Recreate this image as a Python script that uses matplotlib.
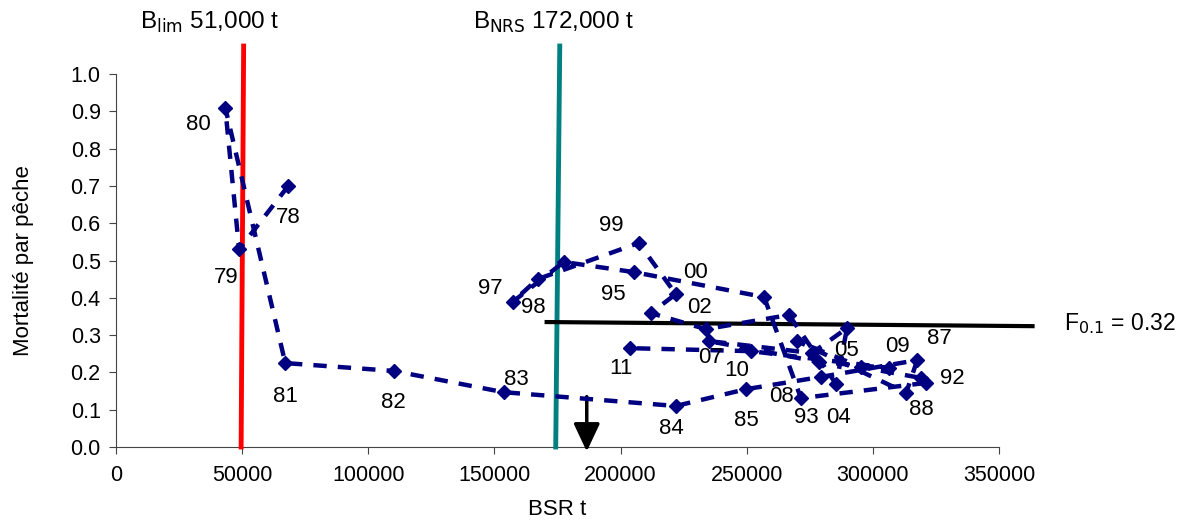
import matplotlib.pyplot as plt

plt.rcParams['font.family'] = ['Liberation Sans', 'DejaVu Sans']

# stock trajectory, one point per year 1978-2011
years = ["78", "79", "80", "81", "82", "83", "84", "85", "86", "87",
         "88", "89", "90", "91", "92", "93", "94", "95", "96", "97",
         "98", "99", "00", "01", "02", "03", "04", "05", "06", "07",
         "08", "09", "10", "11"]
ssb = [68300, 48800, 43300, 67100, 110000, 153600, 221900, 249700, 279500, 317600,
       313200, 270000, 295400, 319200, 321200, 271500, 256900, 205200, 177500, 157200,
       167100, 207200, 221900, 212000, 233800, 266800, 285400, 289800, 275900, 235000,
       278700, 306500, 251700, 203700]
fmort = [0.70, 0.53, 0.91, 0.225, 0.204, 0.147, 0.110, 0.155, 0.188, 0.233,
         0.145, 0.284, 0.214, 0.185, 0.172, 0.131, 0.402, 0.469, 0.496, 0.389,
         0.450, 0.547, 0.410, 0.359, 0.316, 0.354, 0.169, 0.319, 0.252, 0.284,
         0.228, 0.212, 0.257, 0.265]

# labels drawn for these years only, at their own spots
label_years = ["80", "79", "78", "81", "82", "83", "84", "85", "87", "88",
               "92", "93", "95", "97", "98", "99", "00", "02", "04", "05",
               "07", "08", "09", "10", "11"]
label_x = [32500, 43700, 68300, 67100, 110000, 158800, 220000, 249700, 326300, 319200,
           331600, 273500, 197300, 148500, 165500, 196500, 229900, 231400, 286200, 289400,
           235800, 263600, 309700, 246200, 200100]
label_y = [0.865, 0.455, 0.615, 0.135, 0.12, 0.18, 0.05, 0.07, 0.29, 0.10,
           0.185, 0.08, 0.41, 0.425, 0.375, 0.595, 0.467, 0.375, 0.08, 0.26,
           0.24, 0.135, 0.27, 0.205, 0.21]

blim = [50600, 49600]
bnrs = [175900, 174300]
f01_x = [170700, 363300]
f01_y = [0.335, 0.324]
arrow_x = 186600

fig = plt.figure(figsize=(11.8, 5.23), dpi=100)
ax = fig.add_axes([0.0983, 0.1453, 0.7483, 0.7132])

ax.plot(blim, [1.075, 0.0], color="red", linewidth=3.5, clip_on=False, zorder=3)
ax.plot(bnrs, [1.075, 0.0], color="#008080", linewidth=3.5, clip_on=False, zorder=3)
ax.plot(f01_x, f01_y, color="black", linewidth=3, clip_on=False, zorder=3)

ax.plot(ssb, fmort, color="#000080", linestyle=(0, (3, 2.5)), linewidth=3.2,
        marker="D", markersize=7, zorder=4)

for lab, lx, ly in zip(label_years, label_x, label_y):
    ax.text(lx, ly, lab, fontsize=16, ha="center", va="center", zorder=5)

ax.annotate("", xy=(arrow_x, -0.012), xytext=(arrow_x, 0.135),
            arrowprops=dict(arrowstyle="-|>,head_width=0.4,head_length=0.85",
                            mutation_scale=20, color="black", lw=2.5,
                            shrinkA=0, shrinkB=0),
            annotation_clip=False)

ax.text(37000, 1.139, "B$_{\\mathrm{lim}}$ 51,000 t", fontsize=17.5, ha="center", va="center")
ax.text(173500, 1.139, "B$_{\\mathrm{NRS}}$ 172,000 t", fontsize=17.5, ha="center", va="center")
ax.text(375600, 0.33, "F$_{0.1}$ = 0.32", fontsize=16.5, ha="left", va="center")

ax.set_xlim(0, 350000)
ax.set_ylim(0, 1.0)
ax.set_xticks(range(0, 350001, 50000))
ax.set_yticks([i / 10 for i in range(11)])
ax.set_yticklabels([f"{i / 10:.1f}" for i in range(11)])
ax.tick_params(labelsize=15.5, direction="out", length=5, color="#444444")
ax.tick_params(axis="x", pad=8)
ax.tick_params(axis="y", pad=6)
ax.spines["top"].set_visible(False)
ax.spines["right"].set_visible(False)
ax.spines["left"].set_color("#444444")
ax.spines["bottom"].set_color("#444444")
ax.set_xlabel("BSR t", fontsize=16, labelpad=9)
ax.set_ylabel("Mortalité par pêche", fontsize=16, labelpad=26)

plt.savefig("out.png")
